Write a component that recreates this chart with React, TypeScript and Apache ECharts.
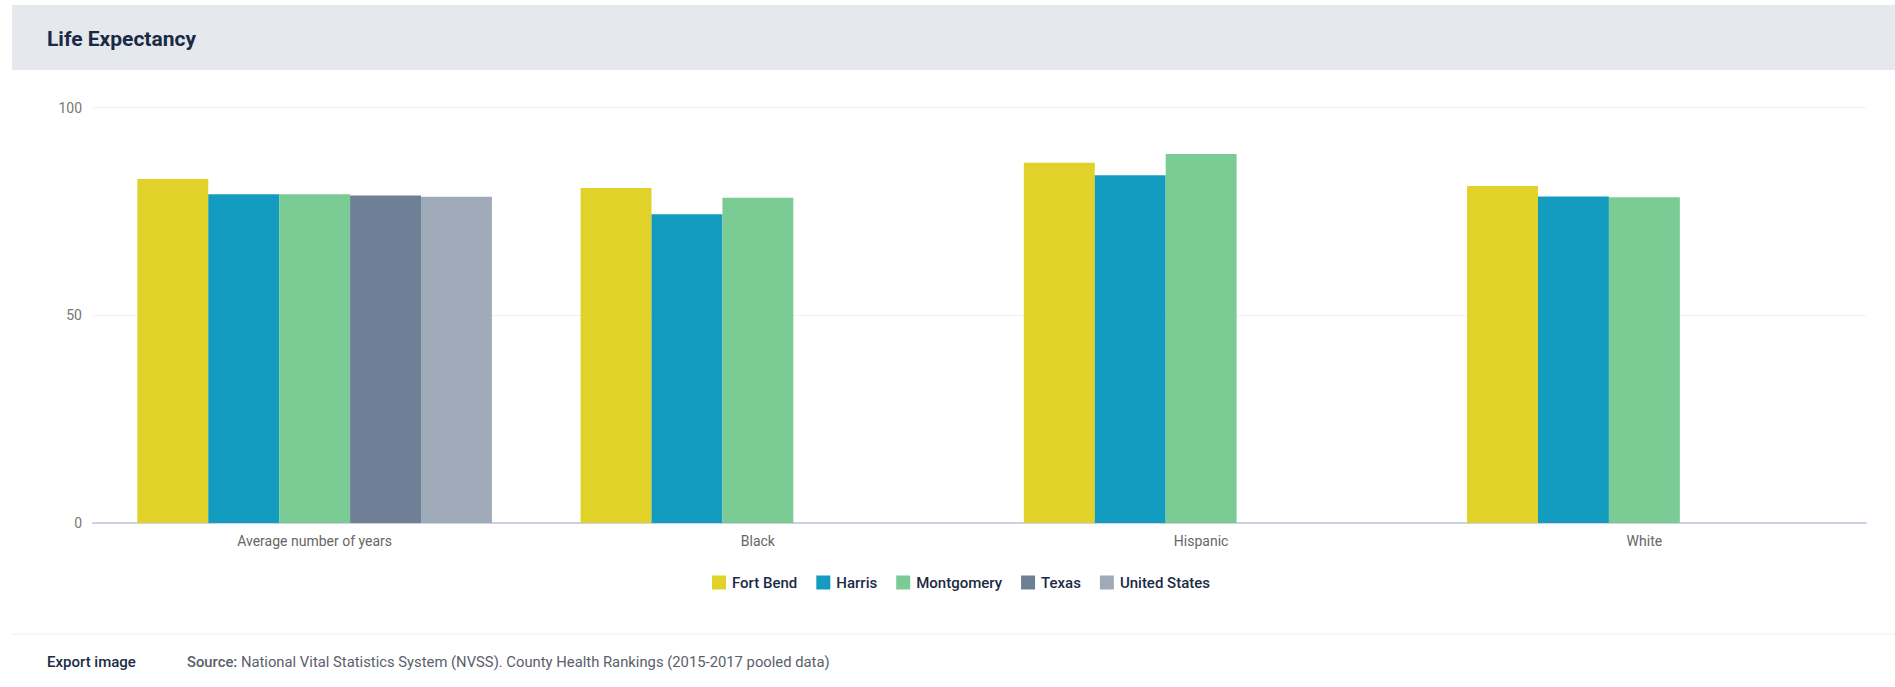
import React, { useEffect, useRef } from "react";
import * as echarts from "echarts";

const categories = ["Average number of years", "Black", "Hispanic", "White"];
const seriesNames = ["Fort Bend", "Harris", "Montgomery", "Texas", "United States"];
const fortBend = [82.8, 80.6, 86.7, 81.1];
const harris = [79.1, 74.3, 83.7, 78.6];
const montgomery = [79.1, 78.3, 88.8, 78.4];
const texas = [78.8, null, null, null];
const unitedStates = [78.5, null, null, null];
const yTicks = { min: 0, max: 100, interval: 50 };
const colors = ["#e0d228", "#149cc0", "#7bcb95", "#6f7f96", "#a0abba"];

const FONT = "Roboto, 'Noto Sans', sans-serif";

export default function App() {
  const ref = useRef<HTMLDivElement>(null);
  useEffect(() => {
    if (!ref.current) return;
    const chart = echarts.init(ref.current, undefined, { renderer: "svg" });
    const allData = [fortBend, harris, montgomery, texas, unitedStates];
    chart.setOption({
      animation: false,
      backgroundColor: "#ffffff",
      textStyle: { fontFamily: FONT },
      color: colors,
      grid: { left: 93, right: 29, top: 107.5, bottom: 164, containLabel: false },
      legend: {
        data: seriesNames,
        left: 707,
        top: 570,
        icon: "rect",
        itemWidth: 14,
        itemHeight: 14,
        itemGap: 19,
        textStyle: { fontFamily: FONT, fontSize: 15, fontWeight: 500, color: "#1c2b45", padding: [0, 0, 0, 1] },
      },
      xAxis: {
        type: "category",
        data: categories,
        axisLine: { show: true, lineStyle: { color: "#ccd2e3", width: 2 } },
        axisTick: { show: false },
        axisLabel: { color: "#666666", fontSize: 14, margin: 11, fontFamily: FONT },
      },
      yAxis: {
        type: "value",
        min: yTicks.min,
        max: yTicks.max,
        interval: yTicks.interval,
        axisLine: { show: false },
        axisTick: { show: false },
        axisLabel: { color: "#777777", fontSize: 14, margin: 11, fontFamily: FONT },
        splitLine: { lineStyle: { color: "#f1f1f1", width: 1 } },
      },
      series: seriesNames.map((name, i) => ({
        name,
        type: "bar",
        data: allData[i],
        barGap: "0%",
        barCategoryGap: "20%",
        itemStyle: { color: colors[i] },
      })),
      graphic: [
        { type: "rect", shape: { x: 12, y: 5, width: 1883, height: 65 }, style: { fill: "#e5e8ed" }, z: -1 },
        {
          type: "text",
          x: 47,
          y: 39,
          style: { text: "Life Expectancy", fontFamily: FONT, fontSize: 21, fontWeight: "bold", fill: "#1a2a44", verticalAlign: "middle" },
        },
        { type: "line", shape: { x1: 12, y1: 634, x2: 1895, y2: 634 }, style: { stroke: "#eceef2", lineWidth: 1 } },
        {
          type: "text",
          x: 47,
          y: 662,
          style: { text: "Export image", fontFamily: FONT, fontSize: 15, fontWeight: 500, fill: "#1c2b45", verticalAlign: "middle" },
        },
        {
          type: "text",
          x: 187,
          y: 662,
          style: {
            text: "{b|Source:} National Vital Statistics System (NVSS). County Health Rankings (2015-2017 pooled data)",
            fontFamily: FONT,
            fontSize: 14.8,
            fill: "#5a606b",
            verticalAlign: "middle",
            rich: { b: { fontFamily: FONT, fontSize: 14.8, fontWeight: 500, fill: "#5a606b" } },
          },
        },
      ],
    });
    return () => chart.dispose();
  }, []);
  return (
    <div
      ref={ref}
      style={{ position: "fixed", left: 0, top: 0, width: 1895, height: 687, background: "#fff" }}
    />
  );
}
